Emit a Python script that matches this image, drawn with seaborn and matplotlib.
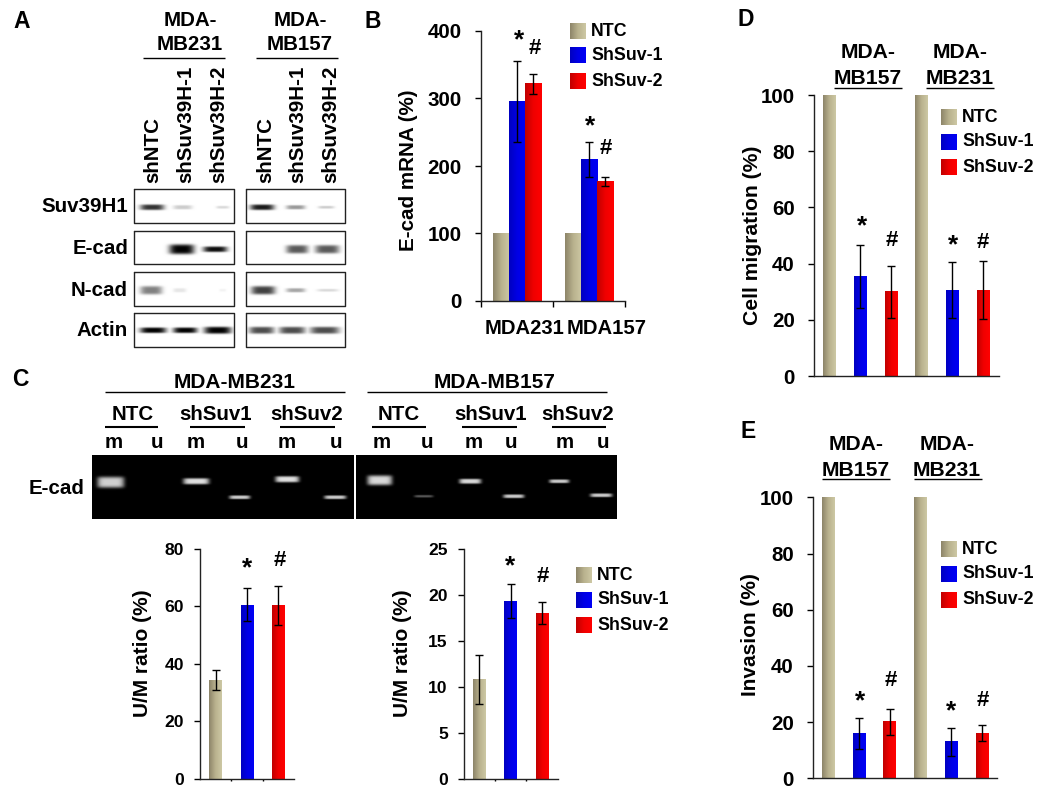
import numpy as np
import pandas as pd
import seaborn as sns
import matplotlib.pyplot as plt
from matplotlib.colors import LinearSegmentedColormap

W, H = 1050, 799

treatments = ["NTC", "ShSuv-1", "ShSuv-2"]

# panel B
b_groups = ["MDA231", "MDA157"]
b_ntc = [100, 100]
b_suv1 = [295, 210]
b_suv2 = [322, 177]
b_err = [0, 0, 60, 26, 15, 7]

# panel C, lower bars
c1_values = [34.3, 60.5, 60.2]
c1_err = [3.6, 5.7, 6.8]
c2_values = [10.8, 19.3, 18.0]
c2_err = [2.65, 1.85, 1.2]

# panel D and E
d_values = [100, 35.5, 30, 100, 30.5, 30.5]
d_err = [0, 11.2, 9.3, 0, 10, 10.3]
e_values = [100, 16, 20, 100, 13, 16]
e_err = [0, 5.5, 4.5, 0, 5, 2.9]

# blot bands: x from, x to, thickness, darkness
blot_rows = ["Suv39H1", "E-cad", "N-cad", "Actin"]
blot_y = [(189, 223, 207), (231, 264, 249), (272, 306, 290), (313, 347, 330)]
blot_left = [
    [(140, 164, 4, .8), (173, 192, 3, .2), (216, 229, 2, .15)],
    [(169, 194, 7, 1), (203, 227, 4, .95)],
    [(140, 162, 6, .5), (173, 186, 3, .1), (219, 226, 2, .05)],
    [(140, 166, 4, 1), (173, 197, 4, 1), (204, 231, 5, 1)],
]
blot_right = [
    [(250, 274, 4, .9), (286, 305, 3, .4), (318, 334, 2, .2)],
    [(286, 308, 6, .65), (315, 339, 6, .65)],
    [(251, 275, 6, .75), (286, 305, 3, .35), (317, 338, 2, .15)],
    [(249, 274, 5, .7), (279, 305, 5, .7), (310, 339, 5, .7)],
]
blot_lanes = ["shNTC", "shSuv39H-1", "shSuv39H-2"]

# gel bands: x from, x to, y, thickness, brightness
gel_left = [(97, 124, 482, 9, .82), (183, 209, 481, 5, .88), (229, 250, 497, 3, .8),
            (275, 299, 479, 5, .88), (324, 346, 497, 3, .8)]
gel_right = [(367, 392, 480, 8, .85), (414, 433, 496, 2, .35), (459, 481, 481, 4, .85),
             (503, 524, 496, 3, .8), (549, 569, 481, 3, .8), (590, 612, 495, 3, .8)]

sns.set_theme(style="ticks")
plt.rcParams["font.family"] = ["Liberation Sans", "DejaVu Sans"]
plt.rcParams["font.weight"] = "bold"
plt.rcParams["axes.labelweight"] = "bold"
plt.rcParams["axes.linewidth"] = 1.0

cmaps = {
    "NTC": LinearSegmentedColormap.from_list("tan", ["#8d8569", "#b9b28e", "#cdc8a4"]),
    "ShSuv-1": LinearSegmentedColormap.from_list("blu", ["#0000c0", "#0000e6", "#0000f5"]),
    "ShSuv-2": LinearSegmentedColormap.from_list("red", ["#c00000", "#f00000", "#ff0000"]),
}
solid = {"NTC": "#b0a984", "ShSuv-1": "#0000e0", "ShSuv-2": "#ee0000"}
ramp = np.linspace(0, 1, 64).reshape(1, -1)

fig = plt.figure(figsize=(W / 100, H / 100), dpi=100)


def box(x0, ytop, x1, ybot):
    return fig.add_axes([x0 / W, 1 - ybot / H, (x1 - x0) / W, (ybot - ytop) / H])


def bars(x0, ytop, x1, ybot, df, top, yticks, width, pad=9.4, size=14.8, dodge=False):
    ax = box(x0, ytop, x1, ybot)
    sns.barplot(data=df, x="group", y="value", hue="treatment", hue_order=treatments,
                palette=solid, width=width, dodge=dodge, gap=0, errorbar=None,
                legend=False, ax=ax)
    n = df["group"].nunique()
    rects = [p for p in ax.patches if p.get_height() > 0]
    # patches come out hue by hue
    ordered = df.sort_values("treatment", kind="stable")
    for p, e, t in zip(rects, ordered["err"], ordered["treatment"]):
        left, right, h = p.get_x(), p.get_x() + p.get_width(), p.get_height()
        ax.imshow(ramp, extent=(left, right, 0, h), aspect="auto", cmap=cmaps[t], zorder=2)
        if e > 0:
            ax.errorbar((left + right) / 2, h, yerr=e, color="black", lw=1.0, capsize=3,
                        capthick=1.0, zorder=3)
    ax.set_xlim(-0.5, n - 0.5)
    ax.set_ylim(0, top)
    ax.set_yticks(yticks)
    ax.set_xlabel("")
    ax.set_ylabel("")
    ax.tick_params(axis="y", length=4.3, width=1.0, pad=pad, labelsize=size, color="black",
                   labelcolor="black")
    ax.patch.set_alpha(0)
    sns.despine(ax=ax)
    ax.spines["left"].set_color("#222222")
    ax.spines["bottom"].set_color("#222222")
    return ax


df_b = pd.DataFrame({
    "group": b_groups * 3,
    "treatment": [t for t in treatments for _ in b_groups],
    "value": b_ntc + b_suv1 + b_suv2,
    "err": b_err,
})
ax = bars(481, 31, 625, 301, df_b, 400, [0, 100, 200, 300, 400], 0.667, dodge=True)
ax.set_xticks([-0.5, 0.5, 1.5])
ax.set_xticklabels([])
ax.tick_params(axis="x", length=4, width=1.0, color="black")

c_groups = ["a", "b", "c"]
for x0, vals, err, top, ticks in [(200, c1_values, c1_err, 80, [0, 20, 40, 60, 80]),
                                  (463.5, c2_values, c2_err, 25, [0, 5, 10, 15, 20, 25])]:
    df_c = pd.DataFrame({"group": c_groups, "treatment": treatments, "value": vals, "err": err})
    ax = bars(x0, 548.7, x0 + 94, 778.7, df_c, top, ticks, 0.4, pad=7, size=12.6)
    ax.set_xticks([0.5, 1.5])
    ax.set_xticklabels([])
    ax.tick_params(axis="x", length=1.2, width=1.0, color="black")

six_groups = ["a", "b", "c", "d", "e", "f"]
for ytop, ybot, x0, vals, err in [(95, 376, 814, d_values, d_err), (497.3, 778.3, 812.7, e_values, e_err)]:
    df_d = pd.DataFrame({"group": six_groups, "treatment": treatments * 2, "value": vals, "err": err})
    ax = bars(x0, ytop, x0 + 184.5, ybot, df_d, 100, [0, 20, 40, 60, 80, 100], 0.4)
    ax.set_xticks([])

# overlay in image pixels for the blots, gels, labels and legends
page = fig.add_axes([0, 0, 1, 1], zorder=10)
page.set_xlim(0, W)
page.set_ylim(H, 0)
page.axis("off")


def text(x, y, s, size=14.8, ha="center", rot=0, va="center"):
    page.text(x, y, s, fontsize=size, ha=ha, va=va, rotation=rot, fontweight="bold",
              color="black")


def signs(items):
    for s, x, y in items:
        if s == "*":
            text(x, y + 3, s, size=19)
        else:
            text(x, y, s, size=16)


def hline(x0, x1, y, lw=1.0):
    page.plot([x0, x1], [y, y], color="black", lw=lw, solid_capstyle="butt")


def blot(x0, x1, ys, bands):
    ytop, ybot, yc = ys
    xx, yy = np.meshgrid(np.arange(x0, x1, 0.5), np.arange(ytop, ybot, 0.5))
    img = np.zeros(xx.shape)
    for a, b, th, d in bands:
        cx, hw = (a + b) / 2, (b - a) / 2
        img = np.maximum(img, d * np.exp(-((xx - cx) / hw) ** 4 - ((yy - yc) / (th * 0.7)) ** 4))
    page.imshow(1 - img, extent=(x0, x1, ybot, ytop), cmap="gray", vmin=0, vmax=1,
                aspect="auto", interpolation="bilinear", zorder=1)
    page.plot([x0, x1, x1, x0, x0], [ytop, ytop, ybot, ybot, ytop], color="#222222", lw=1.0, zorder=2)


def gel(x0, x1, ytop, ybot, bands):
    xx, yy = np.meshgrid(np.arange(x0, x1, 0.5), np.arange(ytop, ybot, 0.5))
    img = np.zeros(xx.shape)
    for a, b, yc, th, d in bands:
        cx, hw = (a + b) / 2, (b - a) / 2
        img = np.maximum(img, d * np.exp(-((xx - cx) / hw) ** 6 - ((yy - yc) / (th * 0.62)) ** 4))
    page.imshow(img, extent=(x0, x1, ybot, ytop), cmap="gray", vmin=0, vmax=1,
                aspect="auto", interpolation="bilinear", zorder=1)


def legend(x, ys):
    for t, y in zip(treatments, ys):
        page.imshow(ramp, extent=(x, x + 16, y + 16, y), aspect="auto", cmap=cmaps[t], zorder=1)
        text(x + 21, y + 8, t, size=12.8, ha="left")


# panel letters
for s, x, y in [("A", 22, 22), ("B", 373, 22), ("C", 20, 380), ("D", 746, 19), ("E", 748, 432)]:
    text(x, y, s, size=16.5)

# panel A
for cx, l0, l1, top, bottom in [(190, 143, 225, "MDA-", "MB231"), (300, 256, 338, "MDA-", "MB157")]:
    text(cx, 20, top)
    text(cx, 45, bottom)
    hline(l0, l1, 58)
for lane_x in ([153, 186, 219], [266, 298, 331]):
    for x, s in zip(lane_x, blot_lanes):
        text(x, 183, s, rot=90, va="bottom")
for name, ys, left, right in zip(blot_rows, blot_y, blot_left, blot_right):
    blot(134, 234, ys, left)
    blot(246, 345, ys, right)
    text(128, ys[2], name, ha="right")

# panel B extras
text(408, 170, "E-cad mRNA (%)", size=14.9, rot=90)
text(525, 328, b_groups[0], size=14.6)
text(607, 328, b_groups[1], size=14.6)
legend(570, [23, 47, 73])
signs([("*", 519, 37), ("#", 535, 48), ("*", 590, 123), ("#", 606, 149)])

# panel C
text(235, 383, "MDA-MB231", size=15)
text(495, 383, "MDA-MB157", size=15)
hline(105, 345, 392)
hline(367, 607, 392)
for s, x, l0, l1 in [("NTC", 133, 105, 158), ("shSuv1", 216, 190, 245), ("shSuv2", 307, 280, 335),
                     ("NTC", 399, 372, 426), ("shSuv1", 491, 462, 517), ("shSuv2", 578, 552, 606)]:
    text(x, 415, s)
    hline(l0, l1, 427, lw=1.5)
for s, x in zip("mumumumumumu", [114, 157, 196, 242, 287, 336, 382, 427, 474, 511, 565, 603]):
    text(x, 443, s)
text(85, 488, "E-cad", ha="right")
gel(92, 354, 455, 519, gel_left)
gel(356, 617, 455, 519, gel_right)

text(143, 653, "U/M ratio (%)", size=15, rot=90)
text(403, 653, "U/M ratio (%)", size=15, rot=90)
legend(576, [567, 592, 617])
signs([("*", 247, 565), ("#", 280, 560), ("*", 510, 563), ("#", 543, 577)])

# panel D
for cx, l0, l1, s in [(868, 834, 902, "MB157"), (960, 926, 994, "MB231")]:
    text(cx, 53, "MDA-", size=15.2)
    text(cx, 79, s, size=15.2)
    hline(l0, l1, 88)
text(752, 235, "Cell migration (%)", size=15.2, rot=90)
legend(941, [109, 134, 159])
signs([("*", 862, 223), ("#", 892, 240), ("*", 953, 242), ("#", 983, 242)])

# panel E
for cx, l0, l1, s in [(856, 822, 890, "MB157"), (947, 914, 982, "MB231")]:
    text(cx, 444, "MDA-", size=15.2)
    text(cx, 471, s, size=15.2)
    hline(l0, l1, 479)
text(751, 635, "Invasion (%)", size=15, rot=90)
legend(941, [541, 566, 592])
signs([("*", 860, 698), ("#", 891, 681), ("*", 951, 708), ("#", 983, 700)])

page.set_xlim(0, W)
page.set_ylim(H, 0)

fig.savefig("out.png", dpi=100)
